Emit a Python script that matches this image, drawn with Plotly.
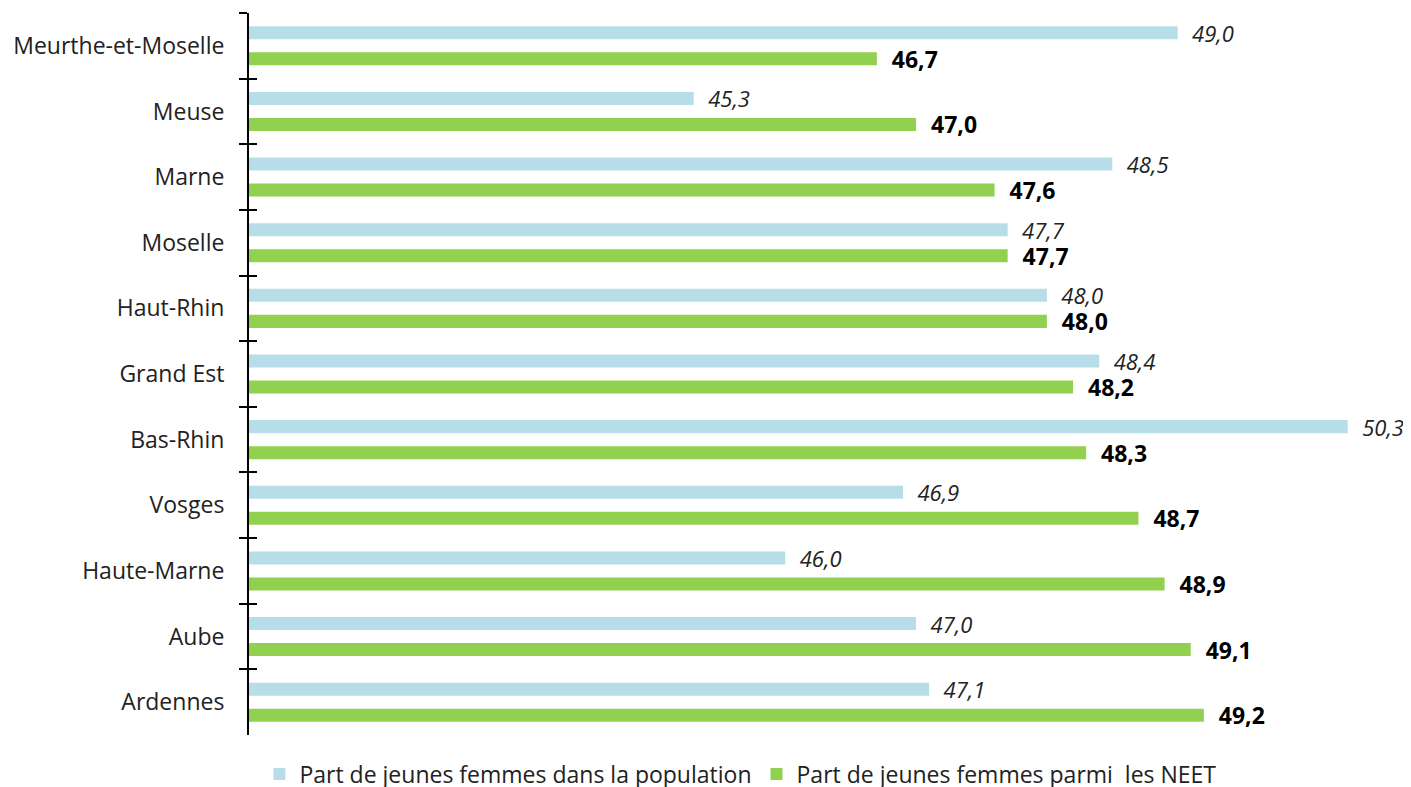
import plotly.graph_objects as go

categories = ["Meurthe-et-Moselle", "Meuse", "Marne", "Moselle", "Haut-Rhin", "Grand Est",
              "Bas-Rhin", "Vosges", "Haute-Marne", "Aube", "Ardennes"]
pop_values = [49.0, 45.3, 48.5, 47.7, 48.0, 48.4, 50.3, 46.9, 46.0, 47.0, 47.1]
neet_values = [46.7, 47.0, 47.6, 47.7, 48.0, 48.2, 48.3, 48.7, 48.9, 49.1, 49.2]
series_names = ["Part de jeunes femmes dans la population", "Part de jeunes femmes parmi  les NEET"]

# page has an 8px body margin: figure is drawn from (8, 8)
W, H = 1403, 779
ML, MR, MT, MB = 241, 3, 5, 52
px_per_unit = 130.8
xmin = 41.9
xmax = xmin + (W - ML - MR) / px_per_unit
yrange = [len(categories) - 0.5, -0.5]

font_main = "'Open Sans', Lato, sans-serif"

fig = go.Figure()
fig.add_trace(go.Bar(
    y=categories, x=pop_values, orientation="h", name=series_names[0],
    marker=dict(color="#b7dde8", line=dict(width=0)),
    texttemplate="\u00a0\u00a0%{x:.1f}", textposition="outside", cliponaxis=False,
    constraintext="none",
    outsidetextfont=dict(family=font_main, size=22, color="#222222", style="italic"),
))
fig.add_trace(go.Bar(
    y=categories, x=neet_values, orientation="h", name=series_names[1],
    marker=dict(color="#92d050", line=dict(width=0)),
    texttemplate="\u00a0\u00a0%{x:.1f}", textposition="outside", cliponaxis=False,
    constraintext="none",
    outsidetextfont=dict(family=font_main, size=23, color="#000000", weight="bold"),
))
# invisible helper trace so the second axis (inside tick marks) is drawn
fig.add_trace(go.Scatter(y=categories, x=pop_values, yaxis="y2", mode="markers",
                         marker=dict(opacity=0), showlegend=False, hoverinfo="skip"))

fig.update_layout(
    width=W, height=H,
    margin=dict(l=ML, r=MR, t=MT, b=MB),
    paper_bgcolor="white", plot_bgcolor="white",
    barmode="group", bargap=0.207, bargroupgap=0.5,
    separators=", ",
    xaxis=dict(range=[xmin, xmax], showgrid=False, zeroline=False, showticklabels=False,
               showline=False, ticks="", automargin=False),
    yaxis=dict(categoryorder="array", categoryarray=categories, range=yrange,
               showline=True, linecolor="#000000", linewidth=2,
               ticks="outside", tickson="boundaries", ticklen=8, tickwidth=2, tickcolor="#000000",
               showgrid=False, tickfont=dict(family=font_main, size=23, color="#222222"),
               ticklabelstandoff=18, automargin=False),
    yaxis2=dict(overlaying="y", side="left", anchor="x",
                categoryorder="array", categoryarray=categories, range=yrange,
                showline=False, ticks="inside", tickson="boundaries", ticklen=8, tickwidth=2,
                tickcolor="#000000", showticklabels=False, showgrid=False, automargin=False),
    legend=dict(orientation="h", x=0.424, xanchor="center", yref="container",
                y=13 / H, yanchor="middle",
                font=dict(family=font_main, size=23, color="#222222"),
                itemwidth=30, tracegroupgap=0),
    showlegend=True,
)

fig.write_html("out.html")
